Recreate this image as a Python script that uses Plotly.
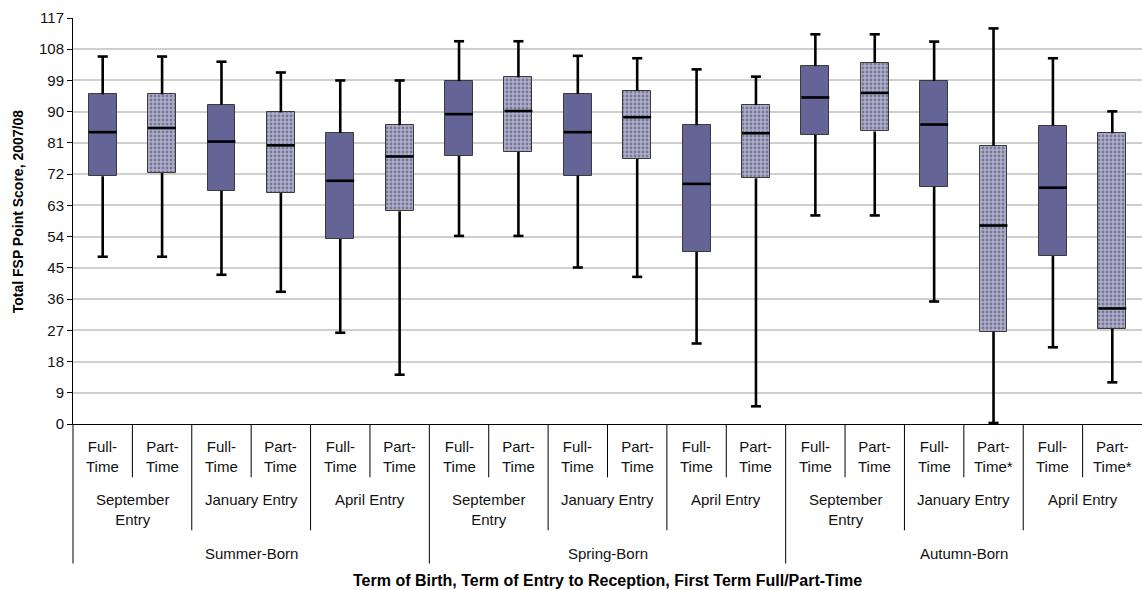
import plotly.graph_objects as go

# ---- data ----
attendance = ["Full-<br>Time", "Part-<br>Time"] * 9
attendance[15] = "Part-<br>Time*"
attendance[17] = "Part-<br>Time*"
entries = ["September<br>Entry", "January Entry", "April Entry"] * 3
births = ["Summer-Born", "Spring-Born", "Autumn-Born"]

lower_whisker = [48.2, 48.2, 43.0, 38.1, 26.3, 14.2, 54.2, 54.2, 45.1, 42.4, 23.2, 5.1,
                 60.1, 60.1, 35.3, 0.3, 22.1, 12.0]
q1 = [71.4, 72.3, 67.2, 66.6, 53.3, 61.3, 77.3, 78.4, 71.6, 76.4, 49.6, 70.8,
      83.3, 84.3, 68.4, 26.6, 48.4, 27.5]
median = [84.1, 85.3, 81.4, 80.3, 70.1, 77.1, 89.3, 90.2, 84.1, 88.4, 69.2, 83.8,
          94.1, 95.4, 86.3, 57.2, 68.1, 33.3]
q3 = [95.0, 95.0, 92.0, 89.8, 83.9, 86.1, 98.8, 99.9, 95.1, 96.0, 86.1, 91.9,
      103.1, 104.1, 98.9, 80.1, 86.0, 83.8]
upper_whisker = [105.9, 105.9, 104.4, 101.3, 99.0, 99.0, 110.3, 110.3, 106.1, 105.4, 102.2, 100.1,
                 112.3, 112.3, 110.2, 114.0, 105.4, 90.1]

y_ticks = list(range(0, 118, 9))

# ---- style ----
FULL_COLOR = "#646496"
PART_COLOR = "#aeaed2"
FONT = "Liberation Sans, Arial, sans-serif"
BOX_W = 0.47
CAP_HALF = 0.085

n = len(q1)
xs = list(range(n))
is_part = [a.startswith("Part") for a in attendance]

fig = go.Figure()

# IQR boxes
fig.add_trace(go.Bar(
    x=xs,
    base=q1,
    y=[b - a for a, b in zip(q1, q3)],
    width=BOX_W,
    marker=dict(
        color=[PART_COLOR if p else FULL_COLOR for p in is_part],
        line=dict(color="#3a3a3a", width=1),
        pattern=dict(
            shape=["." if p else "" for p in is_part],
            fgcolor="#ffffff",
            size=4,
            solidity=0.4,
            fillmode="overlay",
        ),
    ),
    hoverinfo="skip",
    showlegend=False,
))

# whiskers with caps
wx, wy = [], []
for i in xs:
    wx += [i, i, None, i - CAP_HALF, i + CAP_HALF, None]
    wy += [q3[i], upper_whisker[i], None, upper_whisker[i], upper_whisker[i], None]
    wx += [i, i, None, i - CAP_HALF, i + CAP_HALF, None]
    wy += [q1[i], lower_whisker[i], None, lower_whisker[i], lower_whisker[i], None]
fig.add_trace(go.Scatter(x=wx, y=wy, mode="lines",
                         line=dict(color="black", width=2.6),
                         hoverinfo="skip", showlegend=False, cliponaxis=False))

# medians
mx, my = [], []
for i in xs:
    mx += [i - BOX_W / 2, i + BOX_W / 2, None]
    my += [median[i], median[i], None]
fig.add_trace(go.Scatter(x=mx, y=my, mode="lines",
                         line=dict(color="black", width=2.6),
                         hoverinfo="skip", showlegend=False))

# ---- multi-level category axis ----
PLOT_TOP, PLOT_BOTTOM = 17.6, 423.7
H = PLOT_BOTTOM - PLOT_TOP


def py(pixel_y):
    return (PLOT_BOTTOM - pixel_y) / H


annotations = []
for i, lab in enumerate(attendance):
    annotations.append(dict(x=i, xref="x", y=py(436), yref="paper", yanchor="top",
                            text=lab, showarrow=False,
                            font=dict(family=FONT, size=15, color="#111")))
for j, lab in enumerate(entries):
    annotations.append(dict(x=2 * j + 0.5, xref="x", y=py(489), yref="paper", yanchor="top",
                            text=lab, showarrow=False,
                            font=dict(family=FONT, size=15, color="#111")))
for k, lab in enumerate(births):
    annotations.append(dict(x=6 * k + 2.5, xref="x", y=py(553.5), yref="paper", yanchor="middle",
                            text=lab, showarrow=False,
                            font=dict(family=FONT, size=15, color="#111")))

annotations.append(dict(x=0.5, xref="paper", y=py(580.5), yref="paper", yanchor="middle",
                        text="<b>Term of Birth, Term of Entry to Reception, First Term Full/Part-Time</b>",
                        showarrow=False, font=dict(family=FONT, size=16, color="black")))
annotations.append(dict(x=-0.0515, xref="paper", y=(PLOT_BOTTOM - 211) / H, yref="paper",
                        xanchor="center", yanchor="middle", textangle=-90,
                        text="<b>Total FSP Point Score, 2007/08</b>",
                        showarrow=False, font=dict(family=FONT, size=14, color="black")))

shapes = []
for k in range(0, n):
    if k % 6 == 0:
        bottom = py(563.3)
    elif k % 2 == 0:
        bottom = py(530)
    else:
        bottom = py(477)
    shapes.append(dict(type="line", xref="paper", yref="paper",
                       x0=k / n, x1=k / n, y0=0, y1=bottom,
                       line=dict(color="black", width=1)))

fig.update_layout(
    width=1142, height=590,
    margin=dict(l=73, r=0, t=18, b=166, pad=0),
    plot_bgcolor="white", paper_bgcolor="white",
    bargap=0, barmode="overlay",
    annotations=annotations,
    shapes=shapes,
    font=dict(family=FONT, size=15, color="#111"),
)
fig.update_xaxes(range=[-0.5, n - 0.5], showticklabels=False, showgrid=False,
                 zeroline=False, showline=True, linecolor="black", linewidth=1,
                 ticks="")
fig.update_yaxes(range=[0, 117], tickvals=y_ticks, showgrid=True, gridcolor="#cfcfcf",
                 gridwidth=1.5, zeroline=False, showline=True, linecolor="black",
                 linewidth=1, ticks="outside", ticklen=5, tickcolor="black",
                 tickfont=dict(family=FONT, size=15, color="#111"))

fig.write_html(
    "out.html",
    config={"displayModeBar": False},
    post_script="document.body.style.margin='0px';document.body.style.overflow='hidden';",
)
